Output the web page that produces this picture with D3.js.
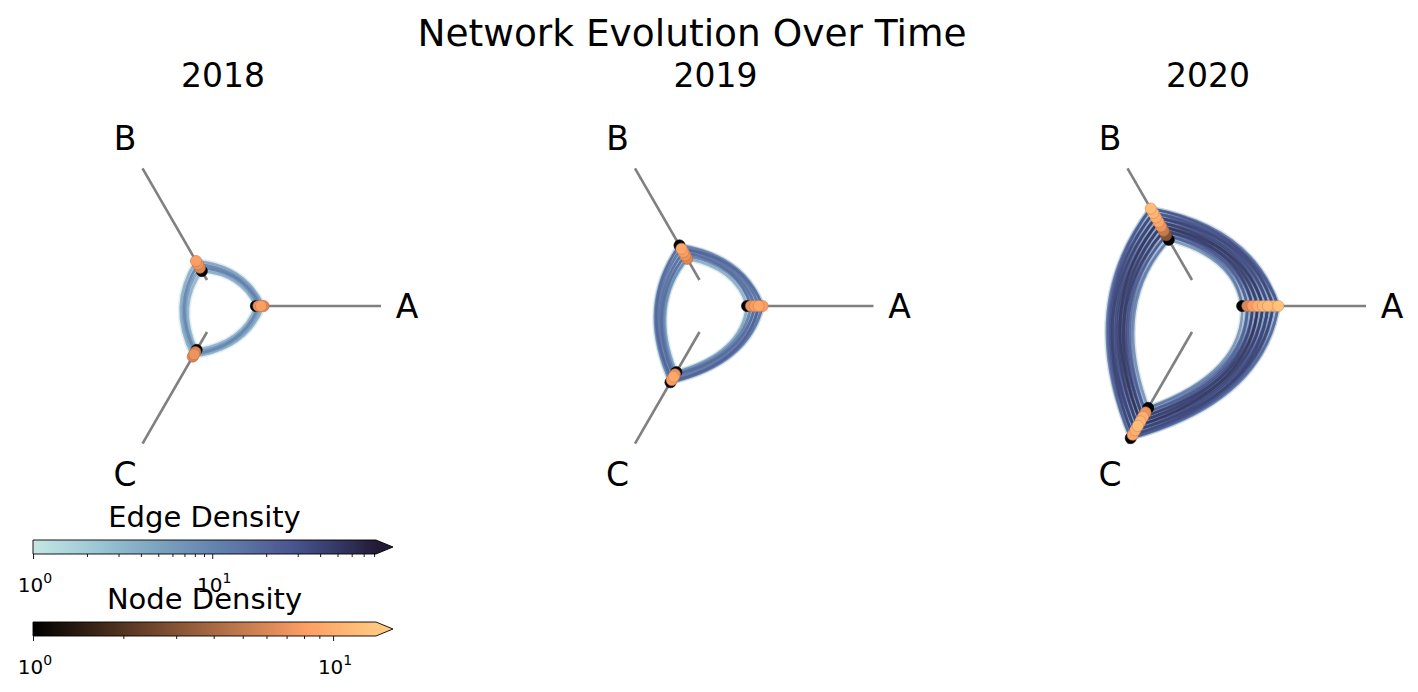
<!DOCTYPE html>
<html><head><meta charset="utf-8">
<script src="https://cdn.jsdelivr.net/npm/d3@7"></script>
<style>body{margin:0;background:#fff}svg{display:block}text{font-family:"DejaVu Sans",sans-serif;fill:#000}</style>
</head><body><svg id="c" width="1418" height="692"></svg>
<script>
// ---------------- data ----------------
const years = ["2018", "2019", "2020"];
const axisNames = ["A", "B", "C"];
const axisAngles = [0, 120, 240];

// nodes: [axis, position along axis (0-100), node density]
const nodes2018 = [
  ["A", 3, 1], ["A", 5, 7], ["A", 7, 8], ["A", 9, 6],
  ["B", 8, 1], ["B", 11, 6], ["B", 14, 7], ["B", 17, 8],
  ["C", 16, 1], ["C", 18, 6], ["C", 20, 7], ["C", 22, 6]
];
// edges: [source node index, target node index, edge density]
const edges2018 = [
  [1, 5, 9], [2, 6, 11], [3, 7, 8], [0, 4, 6], [2, 5, 12], [1, 6, 7],
  [5, 9, 9], [6, 10, 8], [7, 11, 6], [4, 8, 5], [6, 9, 11],
  [9, 1, 9], [10, 2, 8], [11, 3, 6], [8, 0, 5], [10, 1, 11]
];

const nodes2019 = [
  ["A", 2, 1], ["A", 5, 7], ["A", 8, 8], ["A", 11, 9], ["A", 14, 8],
  ["B", 19, 6], ["B", 22, 7], ["B", 25, 8], ["B", 28, 9], ["B", 31, 1],
  ["C", 36, 1], ["C", 38, 7], ["C", 40, 9], ["C", 43, 8], ["C", 45, 1]
];
const edges2019 = [
  [0, 5, 6], [1, 6, 12], [2, 7, 15], [3, 8, 18], [4, 9, 14], [1, 7, 20], [2, 8, 16], [3, 9, 10], [4, 8, 22], [2, 6, 9],
  [5, 10, 8], [6, 11, 14], [7, 12, 18], [8, 13, 16], [9, 14, 12], [6, 12, 20], [7, 13, 15], [8, 14, 10], [9, 13, 22], [5, 11, 9],
  [10, 0, 7], [11, 1, 13], [12, 2, 17], [13, 3, 19], [14, 4, 15], [11, 2, 21], [12, 3, 11], [13, 4, 16], [14, 3, 24], [10, 1, 9]
];

const nodes2020 = [
  ["A", 4, 1], ["A", 8, 6], ["A", 12, 8], ["A", 16, 10], ["A", 20, 11], ["A", 24, 12], ["A", 28, 11], ["A", 32, 13],
  ["B", 36, 1], ["B", 40, 3], ["B", 44, 5], ["B", 48, 7], ["B", 52, 9], ["B", 56, 10], ["B", 60, 11], ["B", 64, 12],
  ["C", 68, 1], ["C", 72, 7], ["C", 76, 10], ["C", 80, 11], ["C", 84, 12], ["C", 88, 10], ["C", 92, 9], ["C", 95, 1]
];
const edges2020 = [
  [0, 8, 12], [1, 9, 25], [2, 10, 35], [3, 11, 40], [4, 12, 45], [5, 13, 38], [6, 14, 30], [7, 15, 22],
  [1, 10, 28], [2, 11, 50], [3, 12, 42], [4, 13, 33], [5, 14, 27], [6, 15, 36], [2, 9, 18], [4, 11, 55], [5, 12, 31], [7, 14, 20],
  [0, 9, 16], [3, 10, 46], [6, 13, 41], [7, 13, 29],
  [8, 16, 14], [9, 17, 26], [10, 18, 38], [11, 19, 44], [12, 20, 48], [13, 21, 40], [14, 22, 32], [15, 23, 20],
  [9, 18, 30], [10, 19, 52], [11, 20, 36], [12, 21, 29], [13, 22, 45], [14, 23, 24], [10, 17, 19], [12, 19, 58], [13, 20, 34], [15, 22, 21],
  [8, 17, 15], [11, 18, 47], [14, 21, 39], [15, 21, 28],
  [16, 0, 13], [17, 1, 24], [18, 2, 36], [19, 3, 43], [20, 4, 50], [21, 5, 39], [22, 6, 31], [23, 7, 19],
  [17, 2, 27], [18, 3, 49], [19, 4, 37], [20, 5, 30], [21, 6, 44], [22, 7, 23], [18, 1, 17], [20, 3, 57], [21, 4, 33], [23, 6, 22],
  [16, 1, 15], [19, 2, 45], [22, 5, 40], [23, 5, 27]
];

const yearNodes = [nodes2018, nodes2019, nodes2020];
const yearEdges = [edges2018, edges2019, edges2020];

const edgeDensityRange = [1, 82];
const nodeDensityRange = [1, 13.9];
const edgeMajorTicks = [1, 10];
const edgeMinorTicks = [2, 3, 4, 5, 6, 7, 8, 9, 20, 30, 40, 50, 60, 70, 80];
const nodeMajorTicks = [1, 10];
const nodeMinorTicks = [2, 3, 4, 5, 6, 7, 8, 9];

// ---------------- colour maps ----------------
const edgeStops = ["#c6e6e4", "#a9d2da", "#8fbacc", "#7aa2c0", "#6889b3", "#5a71a2", "#4a5690", "#363c6c", "#231b36"];
const edgeInterp = d3.piecewise(d3.interpolateRgb, edgeStops);
function copper(t) {
  t = Math.max(0, Math.min(1, t));
  return d3.rgb(Math.min(1, 1.25 * t) * 255, 0.7812 * t * 255, 0.4975 * t * 255).formatHex();
}
const edgeT = d3.scaleLog().domain(edgeDensityRange).range([0, 1]).clamp(true);
const nodeT = d3.scaleLog().domain(nodeDensityRange).range([0, 1]).clamp(true);
const edgeColor = v => edgeInterp(edgeT(v));
const nodeColor = v => copper(nodeT(v));

// ---------------- layout ----------------
const svg = d3.select("#c");
svg.append("rect").attr("width", 1418).attr("height", 692).attr("fill", "#fff");
const cy = 306;
const panelX = d3.scalePoint().domain(years).range([222, 1207]);
const rScale = d3.scaleLinear().domain([0, 100]).range([30, 159]);
const angleOf = d3.scaleOrdinal().domain(axisNames).range(axisAngles);
const labelR = [185, 194, 194];

svg.append("text").attr("x", 692).attr("y", 46).attr("text-anchor", "middle")
  .style("font-size", "37.5px").text("Network Evolution Over Time");

function pt(cx, ang, r) {
  const a = ang * Math.PI / 180;
  return [cx + r * Math.cos(a), cy - r * Math.sin(a)];
}

years.forEach((yr, yi) => {
  const cx = panelX(yr);
  const g = svg.append("g");
  g.append("text").attr("x", cx + 1).attr("y", 87).attr("text-anchor", "middle")
    .style("font-size", "33px").text(yr);

  // axes
  axisNames.forEach((nm, ai) => {
    const ang = angleOf(nm);
    const p0 = pt(cx, ang, rScale(0)), p1 = pt(cx, ang, rScale(100));
    g.append("line").attr("x1", p0[0]).attr("y1", p0[1]).attr("x2", p1[0]).attr("y2", p1[1])
      .attr("stroke", "#808080").attr("stroke-width", 2.6);
    const pl = pt(cx, ang, labelR[ai]);
    g.append("text").attr("x", pl[0]).attr("y", pl[1] + 12).attr("text-anchor", "middle")
      .style("font-size", "33px").text(nm);
  });

  const nodes = yearNodes[yi];
  const edges = yearEdges[yi].slice().sort((a, b) => a[2] - b[2]);
  function edgePath(e) {
    const s = nodes[e[0]], t = nodes[e[1]];
    let a1 = angleOf(s[0]), a2 = angleOf(t[0]);
    if (Math.abs(a2 - a1) > 180) { if (a1 < a2) a1 += 360; else a2 += 360; }
    const r1 = rScale(s[1]), r2 = rScale(t[1]);
    const p0 = pt(cx, a1, r1), p2 = pt(cx, a2, r2);
    const pc = pt(cx, (a1 + a2) / 2, (r1 + r2) / 2);
    const path = d3.path();
    path.moveTo(p0[0], p0[1]);
    path.quadraticCurveTo(pc[0], pc[1], p2[0], p2[1]);
    return path.toString();
  }
  // halos
  g.append("g").selectAll("path").data(edges).join("path")
    .attr("d", edgePath).attr("fill", "none")
    .attr("stroke", e => edgeInterp(edgeT(e[2]) * 0.5))
    .attr("stroke-width", 5.5).attr("stroke-opacity", 0.3);
  // cores
  g.append("g").selectAll("path").data(edges).join("path")
    .attr("d", edgePath).attr("fill", "none")
    .attr("stroke", e => edgeColor(e[2]))
    .attr("stroke-width", 2.6).attr("stroke-opacity", 0.7);

  // nodes
  const sortedNodes = nodes.slice().sort((a, b) => a[2] - b[2]);
  g.append("g").selectAll("circle").data(sortedNodes).join("circle")
    .attr("cx", d => pt(cx, angleOf(d[0]), rScale(d[1]))[0])
    .attr("cy", d => pt(cx, angleOf(d[0]), rScale(d[1]))[1])
    .attr("r", 5.6)
    .attr("fill", d => nodeColor(d[2]))
    .attr("stroke", d => d3.color(nodeColor(d[2])).darker(0.7))
    .attr("stroke-width", 0.6);
});

// ---------------- colour bars ----------------
function colorbar(y0, title, titleY, domain, interp, majors, minors, id) {
  const x0 = 33, x1 = 376, h = 14, tip = 17;
  const sc = d3.scaleLog().domain(domain).range([x0, x1]);
  const grad = svg.append("defs").append("linearGradient").attr("id", id)
    .attr("x1", 0).attr("x2", 1).attr("y1", 0).attr("y2", 0);
  d3.range(0, 1.0001, 0.05).forEach(t => grad.append("stop").attr("offset", t).attr("stop-color", interp(t)));
  svg.append("rect").attr("x", x0).attr("y", y0).attr("width", x1 - x0).attr("height", h).attr("fill", `url(#${id})`);
  svg.append("path").attr("d", `M${x1},${y0}L${x1 + tip},${y0 + h / 2}L${x1},${y0 + h}Z`).attr("fill", interp(1));
  svg.append("path").attr("d", `M${x0},${y0}L${x1},${y0}L${x1 + tip},${y0 + h / 2}L${x1},${y0 + h}L${x0},${y0 + h}Z`)
    .attr("fill", "none").attr("stroke", "#000").attr("stroke-width", 0.9);
  const axMaj = d3.axisBottom(sc).tickValues(majors).tickSize(5).tickFormat("");
  const axMin = d3.axisBottom(sc).tickValues(minors).tickSize(3).tickFormat("");
  const gMaj = svg.append("g").attr("transform", `translate(0,${y0 + h})`).call(axMaj);
  const gMin = svg.append("g").attr("transform", `translate(0,${y0 + h})`).call(axMin);
  [gMaj, gMin].forEach(gg => { gg.select(".domain").remove(); gg.selectAll("line").attr("stroke", "#000").attr("stroke-width", 0.9); });
  majors.forEach(v => {
    const t = svg.append("text").attr("x", sc(v) + 2).attr("y", y0 + h + 38).attr("text-anchor", "middle").style("font-size", "20px");
    t.append("tspan").text("10");
    t.append("tspan").attr("dy", -9).style("font-size", "14px").text(String(Math.round(Math.log10(v))));
  });
  svg.append("text").attr("x", (x0 + x1) / 2).attr("y", titleY).attr("text-anchor", "middle")
    .style("font-size", "29px").text(title);
}
colorbar(540, "Edge Density", 527, edgeDensityRange, edgeInterp, edgeMajorTicks, edgeMinorTicks, "gEdge");
colorbar(622, "Node Density", 609, nodeDensityRange, copper, nodeMajorTicks, nodeMinorTicks, "gNode");
</script></body></html>
